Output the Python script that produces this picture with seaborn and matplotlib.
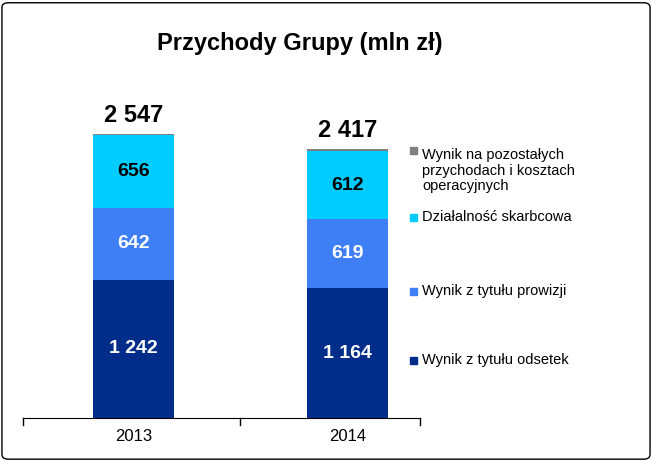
import matplotlib
matplotlib.use("Agg")
import matplotlib.pyplot as plt
import seaborn as sns
import numpy as np
from matplotlib.patches import FancyBboxPatch
from matplotlib import font_manager

names = {f.name for f in font_manager.fontManager.ttflist}
narrow = "Liberation Sans Narrow" if "Liberation Sans Narrow" in names else "Liberation Sans"
plt.rcParams["font.family"] = "Liberation Sans"

years = ["2013", "2014"]
odsetki = [1242, 1164]
prowizje = [642, 619]
skarb = [656, 612]
pozostale = [7, 22]
totals = ["2 547", "2 417"]
lab_ods = ["1 242", "1 164"]
lab_pro = ["642", "619"]
lab_sk = ["656", "612"]
series = [("Wynik z tytułu odsetek", odsetki, "#002D8A", lab_ods, "white"),
          ("Wynik z tytułu prowizji", prowizje, "#3F7FF5", lab_pro, "white"),
          ("Działalność skarbcowa", skarb, "#00CCFF", lab_sk, "black"),
          ("Wynik na pozostałych\nprzychodach i kosztach\noperacyjnych", pozostale, "#808080", None, None)]

fig = plt.figure(figsize=(6.52, 4.61), dpi=100)
fig.patches.append(FancyBboxPatch((0.003, 0.004), 0.994, 0.99, boxstyle="round,pad=0,rounding_size=0.01",
                                  transform=fig.transFigure, fill=False, ec="black", lw=1))
ax = fig.add_axes([23/652, 1-418/461, 397/652, 318/461])
bottom = np.zeros(2)
for name, vals, col, labs, tc in series:
    sns.barplot(x=years, y=vals, color=col, bottom=bottom, width=0.38, ax=ax, saturation=1)
    if labs:
        for i in range(2):
            ax.text(i, bottom[i] + vals[i] / 2, labs[i], ha="center", va="center",
                    fontsize=14, fontweight="bold", color=tc, family=narrow)
    bottom = bottom + np.array(vals)
for i in range(2):
    ax.text(i, bottom[i] + 60, totals[i], ha="center", va="bottom", fontsize=17,
            fontweight="bold", family=narrow)
ax.set_xlim(-0.515, 1.34)
ax.set_ylim(0, 2852)
for s in ["top", "right", "left"]:
    ax.spines[s].set_visible(False)
ax.set_yticks([])
ax.tick_params(axis="x", length=0, labelsize=12, pad=8)
for xv in [-0.515, 0.5, 1.34]:
    ax.plot([xv, xv], [0, -60], color="black", lw=1, clip_on=False)
fig.text(300/652, 0.905, "Przychody Grupy (mln zł)", ha="center", va="center", fontsize=17,
         fontweight="bold", family=narrow)

leg_y = [360, 291, 217, 150]
for (name, vals, col, labs, tc), y in zip(series, leg_y):
    fig.patches.append(plt.Rectangle((410/652, 1-(y+4)/461), 7/652, 7/461, transform=fig.transFigure, color=col))
    yy = y if "\n" not in name else y - 2
    fig.text(422/652, 1-yy/461, name, ha="left", va="top" if "\n" in name else "center",
             fontsize=10.5, linespacing=1.15)
fig.savefig("out.png", dpi=100)
